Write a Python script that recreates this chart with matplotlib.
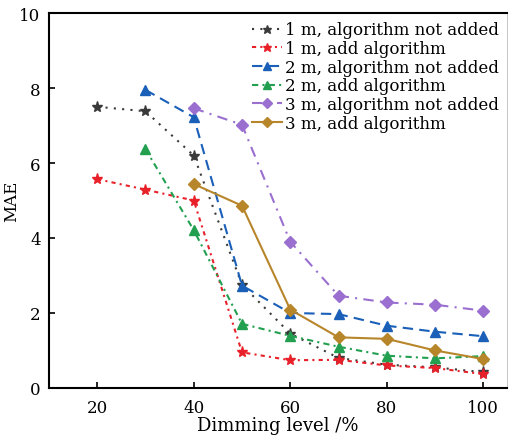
import matplotlib
matplotlib.use("Agg")
import matplotlib.pyplot as plt

x_all = [20, 30, 40, 50, 60, 70, 80, 90, 100]
x_30 = [30, 40, 50, 60, 70, 80, 90, 100]
x_40 = [40, 50, 60, 70, 80, 90, 100]

m1_not = [7.50, 7.38, 6.20, 2.75, 1.45, 0.80, 0.62, 0.55, 0.42]
m1_add = [5.57, 5.29, 5.00, 0.95, 0.74, 0.75, 0.60, 0.53, 0.37]
m2_not = [7.95, 7.22, 2.73, 2.00, 1.97, 1.66, 1.50, 1.38]
m2_add = [6.37, 4.21, 1.71, 1.39, 1.10, 0.86, 0.79, 0.85]
m3_not = [7.46, 7.02, 3.90, 2.46, 2.28, 2.22, 2.06]
m3_add = [5.44, 4.86, 2.09, 1.35, 1.31, 1.00, 0.77]

labels = ["1 m, algorithm not added", "1 m, add algorithm",
          "2 m, algorithm not added", "2 m, add algorithm",
          "3 m, algorithm not added", "3 m, add algorithm"]

plt.rcParams['font.family'] = ['DejaVu Serif']
fig = plt.figure(figsize=(5.10, 4.39), dpi=100)
ax = fig.add_axes([0.096, 0.114, 0.899, 0.854])

ax.plot(x_all, m1_not, color='#3a3a3a', ls=(0, (1, 3)), lw=1.5, marker='*', ms=8, label=labels[0])
ax.plot(x_all, m1_add, color='#e8202a', ls=(0, (2, 2, 1, 2)), lw=1.5, marker='*', ms=8, label=labels[1])
ax.plot(x_30, m2_not, color='#1a5fb8', ls=(0, (5, 3)), lw=1.5, marker='^', ms=7, label=labels[2])
ax.plot(x_30, m2_add, color='#22a050', ls=(0, (3, 2, 1, 2)), lw=1.5, marker='^', ms=7, label=labels[3])
ax.plot(x_40, m3_not, color='#9a6fd0', ls=(0, (5, 3, 1, 3)), lw=1.5, marker='D', ms=6, label=labels[4])
ax.plot(x_40, m3_add, color='#b8862a', ls='-', lw=1.5, marker='D', ms=6, label=labels[5])

ax.set_xlim(10, 105)
ax.set_ylim(0, 10)
ax.set_xticks([20, 40, 60, 80, 100])
ax.set_yticks([0, 2, 4, 6, 8, 10])
ax.tick_params(direction='in', labelsize=12, length=4, width=1.2)
ax.tick_params(axis='x', pad=8)
ax.tick_params(axis='y', pad=6)
ax.set_xlabel('Dimming level /%', fontsize=13, labelpad=0)
ax.set_ylabel('MAE', fontsize=12)
ax.yaxis.set_label_coords(-0.062, 0.5)
for s in ['left', 'bottom', 'top']:
    ax.spines[s].set_linewidth(1.5)
ax.spines['right'].set_linewidth(0.6)
ax.spines['right'].set_color('#bbbbbb')

ax.legend(loc='upper right', fontsize=12, frameon=False, handlelength=1.8,
          handletextpad=0.2, labelspacing=0.1, borderaxespad=0.1,
          markerscale=0.8, bbox_to_anchor=(1.0, 1.0))

fig.savefig('out.png', dpi=100)
